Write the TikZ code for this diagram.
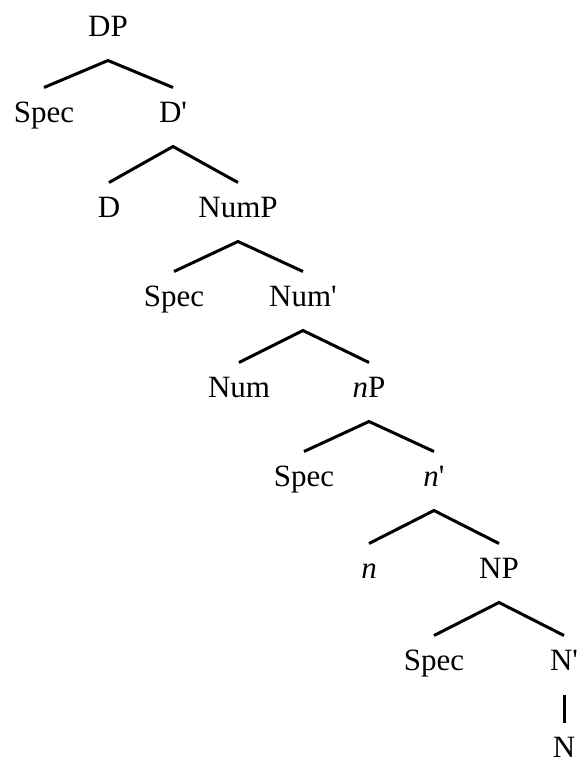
\documentclass[tikz,border=0pt]{standalone}
\usepackage{fontspec}
\setmainfont{Liberation Serif}

\begin{document}
\begin{tikzpicture}[x=1pt,y=-1pt,font=\fontsize{31}{37}\selectfont,line width=3pt,
    cat/.style={anchor=base, inner xsep=0pt, inner ysep=12pt, text height=21pt, text depth=11pt}]

\useasboundingbox (0,0) rectangle (579,764);

% labels of the tree

\node[cat] (dp) at (108,36) {DP};
\node[cat] (dspec) at (44,122) {Spec};
\node[cat] (dbar) at (173,122) {D\textquotesingle};
\node[cat] (dhead) at (109,217) {D};
\node[cat] (nump) at (238,217) {NumP};
\node[cat] (numspec) at (174,306) {Spec};
\node[cat] (numbar) at (303,306) {Num\textquotesingle};
\node[cat] (numhead) at (239,397) {Num};
\node[cat] (nlp) at (369,397) {\textit{n}P};
\node[cat] (nlspec) at (304,486) {Spec};
\node[cat] (nlbar) at (434,486) {\textit{n}\textquotesingle};
\node[cat] (nlhead) at (369,578) {\textit{n}};
\node[cat] (np) at (499,578) {NP};
\node[cat] (nspec) at (434,670) {Spec};
\node[cat] (nbar) at (564,670) {N\textquotesingle};
\node[cat] (nhead) at (564,757) {N};

% branches

\draw (dspec.north) -- (dp.south) -- (dbar.north);
\draw (dhead.north) -- (dbar.south) -- (nump.north);
\draw (numspec.north) -- (nump.south) -- (numbar.north);
\draw (numhead.north) -- (numbar.south) -- (nlp.north);
\draw (nlspec.north) -- (nlp.south) -- (nlbar.north);
\draw (nlhead.north) -- (nlbar.south) -- (np.north);
\draw (nspec.north) -- (np.south) -- (nbar.north);
\draw (nbar.south) -- (nhead.north);

\end{tikzpicture}
\end{document}
